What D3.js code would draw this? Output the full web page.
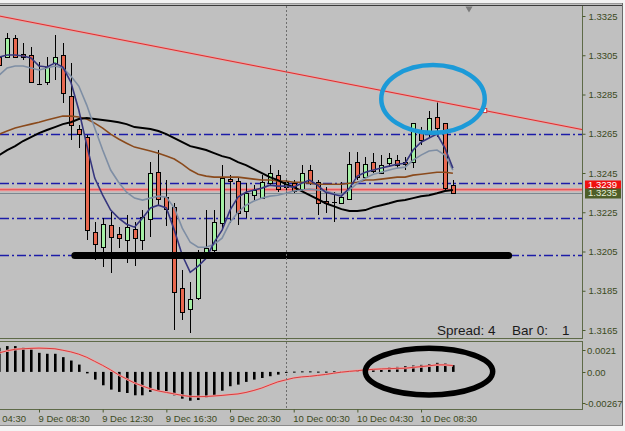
<!DOCTYPE html>
<html>
<head>
<meta charset="utf-8">
<script src="https://cdnjs.cloudflare.com/ajax/libs/d3/7.8.5/d3.min.js"></script>
<style>
body{margin:0;background:#fff;overflow:hidden}
svg{display:block;font-family:"Liberation Sans",Arial,sans-serif}
</style>
</head>
<body>
<script>
(function(){

//half-hour bars, first one at 9 Dec 06:00
var firstBar = "9 Dec 06:00";

var opens = [1.33041,1.33041,1.33138,1.33056,1.33051,1.32903,1.32913,1.33010,1.33051,1.32842,
    1.32674,1.32633,1.32148,1.32072,1.32184,1.32138,1.32108,1.32164,1.32108,1.32215,
    1.32454,1.32327,1.32276,1.31863,1.31756,1.31812,1.32041,1.32057,1.32194,1.32419,
    1.32409,1.32256,1.32337,1.32322,1.32398,1.32439,1.32378,1.32398,1.32368,1.32465,
    1.32403,1.32306,1.32301,1.32296,1.32317,1.32505,1.32429,1.32505,1.32449,1.32500,
    1.32516,1.32505,1.32505,1.32653,1.32653,1.32735,1.32704,1.32388];
var highs = [1.33077,1.33163,1.33153,1.33112,1.33092,1.33015,1.33041,1.33153,1.33112,1.33010,
    1.32694,1.32643,1.32199,1.32220,1.32250,1.32174,1.32235,1.32199,1.32261,1.32505,
    1.32567,1.32414,1.32296,1.31955,1.31893,1.32057,1.32261,1.32261,1.32490,1.32439,
    1.32424,1.32398,1.32388,1.32439,1.32490,1.32465,1.32424,1.32414,1.32490,1.32490,
    1.32414,1.32378,1.32352,1.32403,1.32556,1.32556,1.32531,1.32551,1.32541,1.32551,
    1.32541,1.32531,1.32704,1.32684,1.32766,1.32811,1.32704,1.32414];
var lows = [1.32995,1.33036,1.33036,1.33026,1.32908,1.32898,1.32898,1.32924,1.32806,1.32618,
    1.32577,1.32108,1.32006,1.31970,1.31939,1.32067,1.31990,1.31975,1.32057,1.32123,
    1.32286,1.32179,1.31649,1.31700,1.31633,1.31802,1.32041,1.32046,1.32159,1.32194,
    1.32184,1.32220,1.32312,1.32317,1.32388,1.32352,1.32347,1.32347,1.32352,1.32388,
    1.32235,1.32245,1.32199,1.32291,1.32312,1.32414,1.32424,1.32449,1.32449,1.32480,
    1.32475,1.32465,1.32475,1.32592,1.32633,1.32633,1.32363,1.32342];
var closes = [1.33000,1.33138,1.33041,1.33041,1.32913,1.32903,1.32990,1.33041,1.32857,1.32694,
    1.32648,1.32159,1.32087,1.32189,1.32123,1.32118,1.32174,1.32118,1.32225,1.32449,
    1.32317,1.32266,1.31842,1.31740,1.31807,1.32031,1.32067,1.32199,1.32424,1.32409,
    1.32245,1.32347,1.32363,1.32403,1.32449,1.32368,1.32403,1.32357,1.32449,1.32398,
    1.32296,1.32296,1.32301,1.32327,1.32495,1.32429,1.32495,1.32460,1.32490,1.32526,
    1.32490,1.32495,1.32704,1.32618,1.32730,1.32679,1.32373,1.32350];

//moving averages
var maFast = [1.33041,1.33051,1.33051,1.33046,1.33036,1.32995,1.32990,1.33010,1.32990,1.32913,
    1.32771,1.32592,1.32424,1.32337,1.32261,1.32220,1.32189,1.32174,1.32220,1.32272,
    1.32286,1.32272,1.32159,1.32031,1.31944,1.31975,1.32016,1.32097,1.32159,1.32261,
    1.32327,1.32352,1.32363,1.32373,1.32388,1.32383,1.32383,1.32378,1.32398,1.32414,
    1.32388,1.32352,1.32342,1.32332,1.32373,1.32434,1.32454,1.32465,1.32475,1.32485,
    1.32495,1.32500,1.32567,1.32607,1.32628,1.32648,1.32577,1.32475];
var maMid = [1.32949,1.32985,1.32995,1.32995,1.32985,1.32975,1.32985,1.32995,1.32985,1.32944,
    1.32893,1.32796,1.32679,1.32567,1.32465,1.32403,1.32352,1.32322,1.32312,1.32322,
    1.32332,1.32327,1.32272,1.32169,1.32097,1.32072,1.32072,1.32087,1.32118,1.32199,
    1.32250,1.32286,1.32307,1.32322,1.32332,1.32337,1.32347,1.32358,1.32363,1.32368,
    1.32363,1.32358,1.32347,1.32342,1.32363,1.32398,1.32424,1.32444,1.32454,1.32465,
    1.32475,1.32480,1.32516,1.32541,1.32562,1.32567,1.32541,1.32465];
var maSlow = [1.32648,1.32664,1.32679,1.32689,1.32699,1.32709,1.32720,1.32730,1.32740,1.32740,
    1.32735,1.32725,1.32704,1.32679,1.32648,1.32623,1.32602,1.32582,1.32572,1.32562,
    1.32551,1.32536,1.32521,1.32495,1.32465,1.32444,1.32434,1.32429,1.32429,1.32429,
    1.32429,1.32424,1.32419,1.32414,1.32414,1.32409,1.32409,1.32403,1.32403,1.32398,
    1.32393,1.32393,1.32393,1.32393,1.32398,1.32403,1.32414,1.32414,1.32419,1.32424,
    1.32429,1.32429,1.32439,1.32444,1.32449,1.32454,1.32454,1.32449];
var maBlack = [1.32541,1.32567,1.32587,1.32613,1.32633,1.32653,1.32669,1.32684,1.32699,1.32709,
    1.32725,1.32730,1.32725,1.32720,1.32715,1.32709,1.32699,1.32684,1.32679,1.32674,
    1.32664,1.32648,1.32628,1.32607,1.32587,1.32577,1.32567,1.32551,1.32536,1.32526,
    1.32505,1.32490,1.32470,1.32449,1.32429,1.32414,1.32393,1.32378,1.32358,1.32337,
    1.32317,1.32296,1.32281,1.32266,1.32256,1.32256,1.32261,1.32276,1.32286,1.32296,
    1.32307,1.32312,1.32322,1.32332,1.32337,1.32347,1.32358,1.32363];

//oscillator window
var macdHist = [0.00178,0.00191,0.00191,0.00178,0.00166,0.00141,0.00134,0.00134,0.00109,0.00084,
    0.00054,-0.00011,-0.00057,-0.00099,-0.00131,-0.00148,-0.00156,-0.00173,-0.00173,-0.00148,
    -0.00139,-0.00143,-0.00173,-0.00198,-0.00213,-0.00208,-0.00188,-0.00173,-0.00139,-0.00106,
    -0.00094,-0.00074,-0.00057,-0.00045,-0.00032,-0.00020,-0.00007,0.00002,0.00004,0.00004,
    0.00002,0.00002,0.00004,0.00006,0.00007,0.00011,0.00015,0.00022,0.00027,0.00032,
    0.00037,0.00042,0.00047,0.00052,0.00057,0.00067,0.00062,0.00050];
var macdSignal = [0.00141,0.00156,0.00167,0.00171,0.00174,0.00176,0.00174,0.00171,0.00160,0.00148,
    0.00131,0.00108,0.00078,0.00048,0.00015,-0.00022,-0.00052,-0.00082,-0.00104,-0.00126,
    -0.00141,-0.00152,-0.00163,-0.00174,-0.00182,-0.00183,-0.00182,-0.00178,-0.00174,-0.00168,
    -0.00163,-0.00152,-0.00137,-0.00119,-0.00096,-0.00074,-0.00059,-0.00045,-0.00037,-0.00033,
    -0.00026,-0.00019,-0.00010,-0.00002,0.00004,0.00009,0.00015,0.00019,0.00022,0.00024,
    0.00026,0.00027,0.00033,0.00039,0.00045,0.00052,0.00052,0.00047];

var priceTicks = [1.3325,1.3305,1.3285,1.3265,1.3245,1.3225,1.3205,1.3185,1.3165];
var timeTicks = ["9 Dec 04:30","9 Dec 08:30","9 Dec 12:30","9 Dec 16:30","9 Dec 20:30",
    "10 Dec 00:30","10 Dec 04:30","10 Dec 08:30"];
var macdTicks = [0.0021, 0, -0.00267];
var macdTickLabels = ["0.0021","0.00","-0.00267"];

var levelLines = [1.3265, 1.3240, 1.3222, 1.3203]; //blue dash-dot
var askPrice = 1.3239, bidPrice = 1.3235, redLevel = 1.32365;
var separatorTime = "10 Dec 00:00";
var trendPoints = [["9 Dec 06:00", 1.3325], ["10 Dec 12:30", 1.32768]];
var supportLine = [["9 Dec 10:45", 1.3203], ["10 Dec 14:00", 1.3203]];
var blueEllipse = [["10 Dec 06:00", 1.3300], ["10 Dec 12:30", 1.32655]];
var blackEllipse = [["10 Dec 05:00", 0.00175], ["10 Dec 13:00", -0.0017]];

//layout
var width = 625, height = 431,
    plotRight = 582, mainTop = 6, mainBottom = 338, subTop = 341, subBottom = 409;

var parseT = d3.timeParse("%d %b %H:%M");
var times = opens.map(function(d, i){
    return d3.timeMinute.offset(parseT(firstBar), 30 * i);
});

var x = d3.scaleTime()
    .domain([times[0], times[times.length - 1]])
    .range([-0.8, 452.9]);
var y = d3.scaleLinear().domain([1.3165, 1.3325]).range([330, 16]);
var ySub = d3.scaleLinear().domain([-0.00267, 0.0021]).range([408, 343.5]);

var svg = d3.select("body").append("svg")
    .attr("width", width)
    .attr("height", height);

//background and window frame
svg.append("rect").attr("width", width).attr("height", height).attr("fill", "#c0c0c0");
svg.append("rect").attr("width", width).attr("height", 3).attr("fill", "#f2f2f2");
svg.append("line").attr("x1", 0).attr("x2", 623).attr("y1", 3.5).attr("y2", 3.5).attr("stroke", "#9a9a9a");
svg.append("line").attr("x1", 0).attr("x2", 622).attr("y1", 5.5).attr("y2", 5.5).attr("stroke", "#3a3a3a");
svg.append("rect").attr("x", 623).attr("y", 0).attr("width", 2).attr("height", height).attr("fill", "#f4f4f4");
svg.append("line").attr("x1", 622.5).attr("x2", 622.5).attr("y1", 3).attr("y2", 426).attr("stroke", "#6a6a6a");
svg.append("rect").attr("x", 0).attr("y", 426).attr("width", width).attr("height", 5).attr("fill", "#f4f4f4");
svg.append("line").attr("x1", 0).attr("x2", 623).attr("y1", 425.5).attr("y2", 425.5).attr("stroke", "#8a8a8a");

var defs = svg.append("defs");
defs.append("clipPath").attr("id", "clipMain").append("rect")
    .attr("x", 0).attr("y", mainTop).attr("width", plotRight).attr("height", mainBottom - mainTop);
defs.append("clipPath").attr("id", "clipSub").append("rect")
    .attr("x", 0).attr("y", subTop).attr("width", plotRight).attr("height", subBottom - subTop);

var main = svg.append("g").attr("clip-path", "url(#clipMain)");
var sub = svg.append("g").attr("clip-path", "url(#clipSub)");

//horizontal levels
main.selectAll(".level")
    .data(levelLines)
    .enter()
    .append("line")
    .attr("class", "level")
    .attr("x1", 0).attr("x2", plotRight)
    .attr("y1", function(d){ return Math.round(y(d)) + 0.5; })
    .attr("y2", function(d){ return Math.round(y(d)) + 0.5; })
    .attr("stroke", "#1c1ca8")
    .attr("stroke-width", 1.3)
    .attr("stroke-dasharray", "9,3,2,3");

main.append("line")
    .attr("x1", 0).attr("x2", plotRight)
    .attr("y1", y(redLevel)).attr("y2", y(redLevel))
    .attr("stroke", "#f09494").attr("stroke-width", 3.2);
main.append("line")
    .attr("x1", 0).attr("x2", plotRight)
    .attr("y1", y(redLevel)).attr("y2", y(redLevel))
    .attr("stroke", "#e05050").attr("stroke-width", 1);
main.append("line")
    .attr("x1", 0).attr("x2", plotRight)
    .attr("y1", Math.round(y(bidPrice)) + 0.5).attr("y2", Math.round(y(bidPrice)) + 0.5)
    .attr("stroke", "#7c8890").attr("stroke-width", 1);

//period separator
var sepX = Math.round(x(parseT(separatorTime))) + 0.5;
svg.append("line")
    .attr("x1", sepX).attr("x2", sepX)
    .attr("y1", mainTop).attr("y2", subBottom)
    .attr("stroke", "#6e6e6e")
    .attr("stroke-dasharray", "2,2");

//candles
var bars = times.map(function(t, i){
    return {t: t, o: opens[i], h: highs[i], l: lows[i], c: closes[i]};
});

var candle = main.selectAll(".candle")
    .data(bars)
    .enter()
    .append("g")
    .attr("class", "candle")
    .attr("shape-rendering", "crispEdges");

candle.append("line")
    .attr("x1", function(d){ return Math.round(x(d.t)) + 0.5; })
    .attr("x2", function(d){ return Math.round(x(d.t)) + 0.5; })
    .attr("y1", function(d){ return Math.round(y(d.h)); })
    .attr("y2", function(d){ return Math.round(y(d.l)); })
    .attr("stroke", "#000");

candle.append("rect")
    .attr("x", function(d){ return Math.round(x(d.t)) - 1.5; })
    .attr("y", function(d){ return Math.round(y(Math.max(d.o, d.c))) + 0.5; })
    .attr("width", 4)
    .attr("height", function(d){
        return Math.max(0.01, Math.round(y(Math.min(d.o, d.c))) - Math.round(y(Math.max(d.o, d.c))));
    })
    .attr("fill", function(d){ return d.c > d.o ? "#a4f0a4" : (d.c < d.o ? "#e8684f" : "#000"); })
    .attr("stroke", "#000");

//moving averages
var maLine = function(vals){
    return d3.line()
        .x(function(d, i){ return x(times[i]); })
        .y(function(d){ return y(d); })(vals);
};
[[maSlow, "#8a4a1c", 1.6], [maBlack, "#000000", 2], [maMid, "#7e8ea4", 1.6], [maFast, "#36367e", 1.6]]
    .forEach(function(m){
        main.append("path")
            .attr("d", maLine(m[0]))
            .attr("fill", "none")
            .attr("stroke", m[1])
            .attr("stroke-width", m[2]);
    });

//trendline (ray)
var tA = [x(parseT(trendPoints[0][0])), y(trendPoints[0][1])],
    tB = [x(parseT(trendPoints[1][0])), y(trendPoints[1][1])];
var slope = (tB[1] - tA[1]) / (tB[0] - tA[0]);
main.append("line")
    .attr("x1", tA[0] - 10).attr("y1", tA[1] - 10 * slope)
    .attr("x2", plotRight).attr("y2", tA[1] + (plotRight - tA[0]) * slope)
    .attr("stroke", "#f0a0a0").attr("stroke-width", 2.4);
main.append("line")
    .attr("x1", tA[0] - 10).attr("y1", tA[1] - 10 * slope)
    .attr("x2", plotRight).attr("y2", tA[1] + (plotRight - tA[0]) * slope)
    .attr("stroke", "#d83030").attr("stroke-width", 1);
main.append("rect")
    .attr("x", tB[0] - 2).attr("y", tB[1] - 2)
    .attr("width", 4).attr("height", 4)
    .attr("fill", "#fff").attr("stroke", "#d83030");

//hand-drawn support bar
main.append("line")
    .attr("x1", x(parseT(supportLine[0][0]))).attr("y1", y(supportLine[0][1]))
    .attr("x2", x(parseT(supportLine[1][0]))).attr("y2", y(supportLine[1][1]))
    .attr("stroke", "#000").attr("stroke-width", 7).attr("stroke-linecap", "round");

//blue ellipse
var bx0 = x(parseT(blueEllipse[0][0])), bx1 = x(parseT(blueEllipse[1][0])),
    by0 = y(blueEllipse[0][1]), by1 = y(blueEllipse[1][1]);
main.append("ellipse")
    .attr("cx", (bx0 + bx1) / 2).attr("cy", (by0 + by1) / 2)
    .attr("rx", (bx1 - bx0) / 2).attr("ry", (by1 - by0) / 2)
    .attr("fill", "none").attr("stroke", "#1c9ad8").attr("stroke-width", 4.5);

//shift marker
svg.append("path")
    .attr("d", d3.symbol().type(d3.symbolTriangle).size(22))
    .attr("transform", "translate(469,8.5) rotate(180)")
    .attr("fill", "#7a7a7a");

//spread / bar info
var info = svg.append("g").attr("font-size", 13.5).attr("fill", "#1a1a1a");
info.append("text").attr("x", 437).attr("y", 335).text("Spread: 4");
info.append("text").attr("x", 512).attr("y", 335).text("Bar 0:");
info.append("text").attr("x", 562).attr("y", 335).text("1");

//panel borders
svg.append("line").attr("x1", 0).attr("x2", plotRight + 0.5).attr("y1", mainBottom + 0.5).attr("y2", mainBottom + 0.5).attr("stroke", "#5e6a48");
svg.append("line").attr("x1", 0).attr("x2", plotRight + 0.5).attr("y1", subTop + 0.5).attr("y2", subTop + 0.5).attr("stroke", "#5e6a48");
svg.append("line").attr("x1", 0).attr("x2", plotRight + 0.5).attr("y1", subBottom + 0.5).attr("y2", subBottom + 0.5).attr("stroke", "#5e6a48");
svg.append("line").attr("x1", plotRight + 0.5).attr("x2", plotRight + 0.5).attr("y1", mainTop).attr("y2", mainBottom + 1).attr("stroke", "#5e6a48");
svg.append("line").attr("x1", plotRight + 0.5).attr("x2", plotRight + 0.5).attr("y1", subTop).attr("y2", subBottom + 1).attr("stroke", "#5e6a48");

//price axis
var yAxis = d3.axisRight(y)
    .tickValues(priceTicks)
    .tickSize(3)
    .tickPadding(3)
    .tickFormat(d3.format(".4f"));
var yAxisG = svg.append("g")
    .attr("transform", "translate(" + (plotRight + 0.5) + ",0)")
    .call(yAxis);
yAxisG.select(".domain").remove();
yAxisG.selectAll("line").attr("stroke", "#4a5a2c");
yAxisG.selectAll("text").attr("fill", "#3c4a22").attr("font-size", 9.5)
    .attr("font-family", "Liberation Sans, Arial, sans-serif");

//bid / ask boxes
var boxes = [[askPrice, "#f01010", "#ffffff"], [bidPrice, "#4e5e28", "#e8f0d8"]];
boxes.forEach(function(b){
    var cy = y(b[0]);
    svg.append("rect")
        .attr("x", plotRight + 3).attr("y", Math.round(cy) - 4.5)
        .attr("width", 36).attr("height", 10)
        .attr("fill", b[1]);
    svg.append("text")
        .attr("x", plotRight + 6).attr("y", cy)
        .attr("dy", "0.35em")
        .attr("font-size", 9.5)
        .attr("fill", b[2])
        .text(d3.format(".4f")(b[0]));
});

//oscillator
sub.append("line")
    .attr("x1", 0).attr("x2", plotRight)
    .attr("y1", ySub(0)).attr("y2", ySub(0))
    .attr("stroke", "#c0c0c0");

sub.selectAll(".hist")
    .data(macdHist)
    .enter()
    .append("rect")
    .attr("class", "hist")
    .attr("x", function(d, i){ return Math.round(x(times[i])) - 1; })
    .attr("width", 2.6)
    .attr("y", function(d){ return Math.min(ySub(d), ySub(0)); })
    .attr("height", function(d){ return Math.max(1, Math.abs(ySub(d) - ySub(0))); })
    .attr("fill", "#000");

var sigLine = d3.line()
    .x(function(d, i){ return x(times[i]); })
    .y(function(d){ return ySub(d); });
sub.append("path").attr("d", sigLine(macdSignal))
    .attr("fill", "none").attr("stroke", "#f0a6a6").attr("stroke-width", 2.2);
sub.append("path").attr("d", sigLine(macdSignal))
    .attr("fill", "none").attr("stroke", "#d83c3c").attr("stroke-width", 1);

var ex0 = x(parseT(blackEllipse[0][0])), ex1 = x(parseT(blackEllipse[1][0])),
    ey0 = ySub(blackEllipse[0][1]), ey1 = ySub(blackEllipse[1][1]);
svg.append("ellipse")
    .attr("cx", (ex0 + ex1) / 2).attr("cy", (ey0 + ey1) / 2)
    .attr("rx", (ex1 - ex0) / 2).attr("ry", (ey1 - ey0) / 2)
    .attr("fill", "none").attr("stroke", "#000").attr("stroke-width", 5.5);

//oscillator scale labels sit just inside the window edges
var subLabelShift = [6.5, 0, -5];
var subAxis = svg.append("g");
macdTicks.forEach(function(v, i){
    var ty = Math.round(ySub(v) + subLabelShift[i]) + 0.5;
    subAxis.append("line")
        .attr("x1", plotRight + 0.5).attr("x2", plotRight + 3.5)
        .attr("y1", ty).attr("y2", ty)
        .attr("stroke", "#4a5a2c");
    subAxis.append("text")
        .attr("x", v < 0 ? plotRight + 3 : plotRight + 5).attr("y", ty)
        .attr("dy", "0.35em")
        .attr("font-size", 9.5)
        .attr("fill", "#3c4a22")
        .text(macdTickLabels[i]);
});

//time axis
var xAxis = d3.axisBottom(x)
    .tickValues(timeTicks.map(parseT))
    .tickSize(3)
    .tickFormat(d3.timeFormat("%-d %b %H:%M"));
var xAxisG = svg.append("g")
    .attr("transform", "translate(0," + (subBottom + 0.5) + ")")
    .call(xAxis);
xAxisG.select(".domain").remove();
xAxisG.selectAll("line").attr("stroke", "#4a5a2c");
xAxisG.selectAll("text")
    .attr("text-anchor", "start")
    .attr("x", -1)
    .attr("y", 6)
    .attr("dy", "0.71em")
    .attr("fill", "#3c4a22")
    .attr("font-size", 9.5)
    .attr("font-family", "Liberation Sans, Arial, sans-serif");

})();
</script>
</body>
</html>
